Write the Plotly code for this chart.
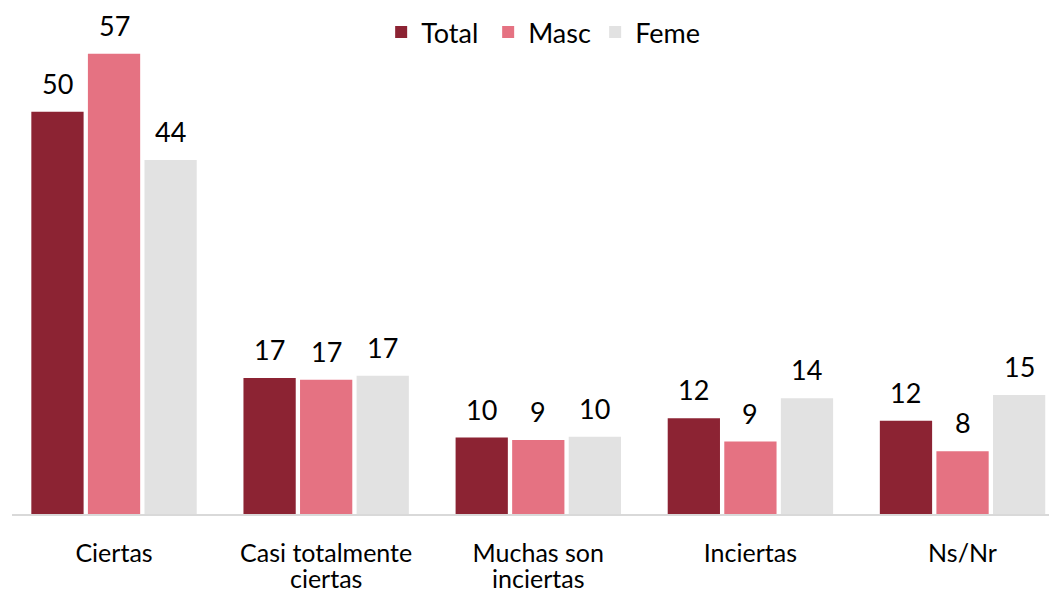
import plotly.graph_objects as go

categories = ["Ciertas", "Casi totalmente<br>ciertas", "Muchas son<br>inciertas", "Inciertas", "Ns/Nr"]
series_names = ["Total", "Masc", "Feme"]
total = [50.0, 16.9, 9.5, 11.9, 11.6]
masc = [57.2, 16.7, 9.2, 9.0, 7.8]
feme = [44.0, 17.2, 9.6, 14.4, 14.8]
labels_total = ["50", "17", "10", "12", "12"]
labels_masc = ["57", "17", "9", "9", "8"]
labels_feme = ["44", "17", "10", "14", "15"]

colors = ["#8C2333", "#E57282", "#E2E2E2"]
FONT = "Lato"

bargap = 0.2
bargroupgap = 0.076

fig = go.Figure()
all_vals = [total, masc, feme]
all_labels = [labels_total, labels_masc, labels_feme]
for name, vals, col in zip(series_names, all_vals, colors):
    fig.add_trace(go.Bar(name=name, x=categories, y=vals, marker=dict(color=col, line=dict(width=0)),
                         hoverinfo="skip"))

# value labels via annotations positioned from the data and bar layout parameters
n = len(series_names)
slot = (1 - bargap) / n
for j, (vals, labs) in enumerate(zip(all_vals, all_labels)):
    for i, (v, t) in enumerate(zip(vals, labs)):
        fig.add_annotation(x=i + (j - (n - 1) / 2) * slot, y=v, xref="x", yref="y",
                           text=t, showarrow=False, yanchor="bottom", yshift=10,
                           font=dict(family=FONT, size=27, color="#000000"))

# tick labels: larger glyphs with tight line spacing
ticktext = ["<br>".join(f"<span style='font-size:25px'>{part}</span>" for part in c.split("<br>"))
            for c in categories]

fig.update_layout(
    width=1057, height=592,
    margin=dict(l=4, r=0, t=0, b=86, autoexpand=False),
    barmode="group", bargap=bargap, bargroupgap=bargroupgap,
    plot_bgcolor="white", paper_bgcolor="white",
    font=dict(family=FONT, color="#000000"),
    legend=dict(orientation="h", x=0.503, xanchor="center", y=1.0, yanchor="top",
                yref="container",
                font=dict(family=FONT, size=27), itemwidth=30,
                entrywidth=62, entrywidthmode="pixels",
                traceorder="normal", bgcolor="rgba(0,0,0,0)"),
    showlegend=True,
)
fig.update_xaxes(range=[-0.481, 4.483], showline=True, linecolor="#D9D9D9", linewidth=2,
                 ticks="", showgrid=False, tickfont=dict(family=FONT, size=20, color="#000000"),
                 tickmode="array", tickvals=categories, ticktext=ticktext,
                 ticklabelstandoff=22)
fig.update_yaxes(range=[0, 62.9], visible=False, showgrid=False, zeroline=False)

fig.write_html("out.html")
